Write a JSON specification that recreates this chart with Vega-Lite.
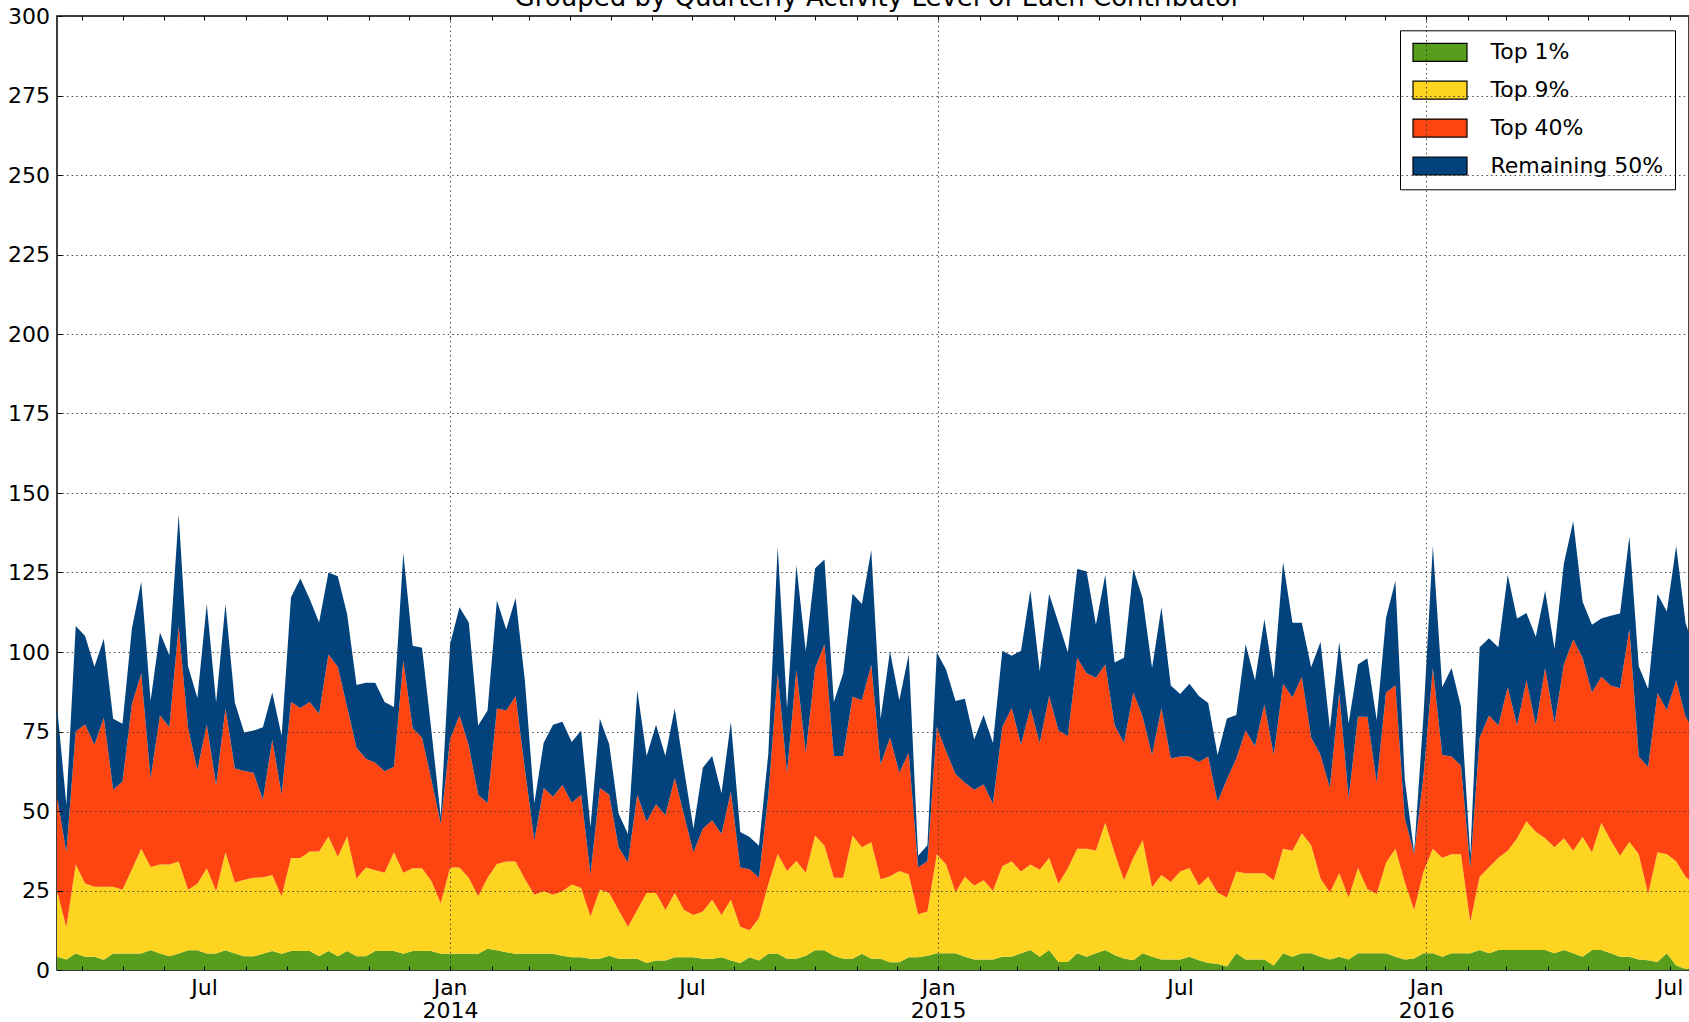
{
  "$schema": "https://vega.github.io/schema/vega-lite/v6.json",
  "autosize": {"type": "none"},
  "padding": {"left": 57, "top": 16, "right": 0, "bottom": 52},
  "width": 1632,
  "height": 954,
  "background": "white",
  "title": {"text": "Grouped by Quarterly Activity Level of Each Contributor", "font": "DejaVu Sans", "fontSize": 26, "fontWeight": "normal", "color": "black", "anchor": "middle", "offset": 0, "baseline": "alphabetic", "dx": 5, "dy": 27},
  "config": {"view": {"stroke": "black", "strokeWidth": 1.5}},
  "data": {"values": [
    {"date":"2013-03-13","t1":4.2,"t9":20.7,"t40":29.6,"rest":28.5},
    {"date":"2013-03-20","t1":3.3,"t9":10.2,"t40":23.5,"rest":15.0},
    {"date":"2013-03-27","t1":5.2,"t9":28.0,"t40":41.8,"rest":33.2},
    {"date":"2013-04-03","t1":4.2,"t9":23.0,"t40":50.0,"rest":27.8},
    {"date":"2013-04-10","t1":4.2,"t9":22.0,"t40":44.6,"rest":24.6},
    {"date":"2013-04-17","t1":3.2,"t9":23.0,"t40":53.1,"rest":24.9},
    {"date":"2013-04-24","t1":5.2,"t9":21.0,"t40":30.5,"rest":22.3},
    {"date":"2013-05-01","t1":5.2,"t9":20.0,"t40":34.1,"rest":18.1},
    {"date":"2013-05-08","t1":5.2,"t9":26.4,"t40":52.0,"rest":23.7},
    {"date":"2013-05-15","t1":5.2,"t9":32.9,"t40":55.1,"rest":28.9},
    {"date":"2013-05-22","t1":6.3,"t9":26.1,"t40":27.8,"rest":24.5},
    {"date":"2013-05-29","t1":5.2,"t9":28.0,"t40":46.9,"rest":26.0},
    {"date":"2013-06-05","t1":4.3,"t9":28.9,"t40":43.1,"rest":22.7},
    {"date":"2013-06-12","t1":5.2,"t9":28.9,"t40":74.0,"rest":35.1},
    {"date":"2013-06-19","t1":6.2,"t9":19.0,"t40":50.9,"rest":19.4},
    {"date":"2013-06-26","t1":6.2,"t9":20.9,"t40":35.8,"rest":22.6},
    {"date":"2013-07-03","t1":5.2,"t9":26.8,"t40":45.2,"rest":37.9},
    {"date":"2013-07-10","t1":5.2,"t9":19.6,"t40":33.4,"rest":25.9},
    {"date":"2013-07-17","t1":6.2,"t9":30.8,"t40":45.3,"rest":32.8},
    {"date":"2013-07-24","t1":5.2,"t9":22.3,"t40":35.9,"rest":20.7},
    {"date":"2013-07-31","t1":4.3,"t9":24.1,"t40":34.2,"rest":12.1},
    {"date":"2013-08-07","t1":4.3,"t9":24.7,"t40":33.0,"rest":13.3},
    {"date":"2013-08-14","t1":5.1,"t9":24.1,"t40":24.3,"rest":22.8},
    {"date":"2013-08-21","t1":6.0,"t9":23.9,"t40":42.5,"rest":14.9},
    {"date":"2013-08-28","t1":5.1,"t9":18.1,"t40":31.9,"rest":18.6},
    {"date":"2013-09-04","t1":6.0,"t9":29.2,"t40":49.1,"rest":32.9},
    {"date":"2013-09-11","t1":6.0,"t9":29.2,"t40":47.2,"rest":40.7},
    {"date":"2013-09-18","t1":6.0,"t9":31.3,"t40":47.0,"rest":32.4},
    {"date":"2013-09-25","t1":4.3,"t9":33.0,"t40":43.3,"rest":28.7},
    {"date":"2013-10-02","t1":6.0,"t9":36.0,"t40":57.2,"rest":25.8},
    {"date":"2013-10-09","t1":4.3,"t9":31.3,"t40":59.8,"rest":28.4},
    {"date":"2013-10-16","t1":6.0,"t9":36.0,"t40":40.7,"rest":29.2},
    {"date":"2013-10-23","t1":4.3,"t9":24.5,"t40":41.1,"rest":19.7},
    {"date":"2013-10-30","t1":4.3,"t9":27.9,"t40":34.2,"rest":23.9},
    {"date":"2013-11-06","t1":6.0,"t9":25.4,"t40":33.8,"rest":25.1},
    {"date":"2013-11-13","t1":6.0,"t9":24.6,"t40":31.9,"rest":21.8},
    {"date":"2013-11-20","t1":6.0,"t9":31.0,"t40":26.9,"rest":18.8},
    {"date":"2013-11-27","t1":5.1,"t9":25.5,"t40":66.7,"rest":33.8},
    {"date":"2013-12-04","t1":6.0,"t9":26.0,"t40":44.0,"rest":26.0},
    {"date":"2013-12-11","t1":6.0,"t9":26.0,"t40":41.1,"rest":28.2},
    {"date":"2013-12-18","t1":6.0,"t9":22.0,"t40":31.8,"rest":15.5},
    {"date":"2013-12-25","t1":5.1,"t9":15.9,"t40":25.0,"rest":2.2},
    {"date":"2014-01-01","t1":5.1,"t9":27.1,"t40":40.4,"rest":29.8},
    {"date":"2014-01-08","t1":5.1,"t9":27.1,"t40":47.8,"rest":34.1},
    {"date":"2014-01-15","t1":5.1,"t9":23.9,"t40":41.5,"rest":38.8},
    {"date":"2014-01-22","t1":5.1,"t9":18.1,"t40":31.9,"rest":21.8},
    {"date":"2014-01-29","t1":6.7,"t9":22.3,"t40":23.4,"rest":29.2},
    {"date":"2014-02-05","t1":6.2,"t9":27.1,"t40":48.9,"rest":34.0},
    {"date":"2014-02-12","t1":5.6,"t9":28.5,"t40":47.5,"rest":25.5},
    {"date":"2014-02-19","t1":5.1,"t9":29.0,"t40":52.0,"rest":30.9},
    {"date":"2014-02-26","t1":5.1,"t9":23.4,"t40":34.5,"rest":27.7},
    {"date":"2014-03-05","t1":5.1,"t9":18.6,"t40":17.0,"rest":11.7},
    {"date":"2014-03-12","t1":5.1,"t9":19.7,"t40":32.4,"rest":14.3},
    {"date":"2014-03-19","t1":5.1,"t9":18.6,"t40":30.8,"rest":22.6},
    {"date":"2014-03-26","t1":4.5,"t9":20.3,"t40":33.4,"rest":19.9},
    {"date":"2014-04-02","t1":4.0,"t9":22.9,"t40":25.7,"rest":19.1},
    {"date":"2014-04-09","t1":4.0,"t9":21.8,"t40":29.3,"rest":20.2},
    {"date":"2014-04-16","t1":3.5,"t9":13.3,"t40":13.3,"rest":14.9},
    {"date":"2014-04-23","t1":3.5,"t9":21.8,"t40":31.9,"rest":21.8},
    {"date":"2014-04-30","t1":4.5,"t9":19.7,"t40":30.9,"rest":15.9},
    {"date":"2014-05-07","t1":3.5,"t9":15.4,"t40":19.7,"rest":10.6},
    {"date":"2014-05-14","t1":3.5,"t9":10.1,"t40":20.2,"rest":9.0},
    {"date":"2014-05-21","t1":3.5,"t9":15.4,"t40":36.2,"rest":32.9},
    {"date":"2014-05-28","t1":2.2,"t9":22.0,"t40":22.4,"rest":20.7},
    {"date":"2014-06-04","t1":3.0,"t9":21.2,"t40":27.9,"rest":25.0},
    {"date":"2014-06-11","t1":3.0,"t9":15.9,"t40":29.8,"rest":18.6},
    {"date":"2014-06-18","t1":4.0,"t9":20.2,"t40":36.2,"rest":21.8},
    {"date":"2014-06-25","t1":4.0,"t9":14.9,"t40":29.8,"rest":14.3},
    {"date":"2014-07-02","t1":4.0,"t9":13.3,"t40":19.7,"rest":7.4},
    {"date":"2014-07-09","t1":3.5,"t9":14.9,"t40":26.0,"rest":19.2},
    {"date":"2014-07-16","t1":3.5,"t9":18.6,"t40":25.0,"rest":20.2},
    {"date":"2014-07-23","t1":4.0,"t9":13.3,"t40":25.5,"rest":12.8},
    {"date":"2014-07-30","t1":3.0,"t9":19.1,"t40":34.0,"rest":22.0},
    {"date":"2014-08-06","t1":2.2,"t9":11.4,"t40":18.6,"rest":11.2},
    {"date":"2014-08-13","t1":4.0,"t9":8.5,"t40":19.2,"rest":10.1},
    {"date":"2014-08-20","t1":3.0,"t9":13.3,"t40":12.7,"rest":10.1},
    {"date":"2014-08-27","t1":5.1,"t9":21.9,"t40":28.0,"rest":13.0},
    {"date":"2014-09-03","t1":5.1,"t9":31.4,"t40":56.8,"rest":39.9},
    {"date":"2014-09-10","t1":3.5,"t9":27.6,"t40":30.9,"rest":20.2},
    {"date":"2014-09-17","t1":3.5,"t9":30.8,"t40":60.1,"rest":32.9},
    {"date":"2014-09-24","t1":4.5,"t9":26.1,"t40":37.7,"rest":31.9},
    {"date":"2014-10-01","t1":6.2,"t9":36.1,"t40":52.6,"rest":31.4},
    {"date":"2014-10-08","t1":6.2,"t9":32.9,"t40":63.3,"rest":26.7},
    {"date":"2014-10-15","t1":4.5,"t9":24.5,"t40":38.3,"rest":17.0},
    {"date":"2014-10-22","t1":3.5,"t9":25.5,"t40":38.3,"rest":26.0},
    {"date":"2014-10-29","t1":3.5,"t9":38.8,"t40":43.6,"rest":32.4},
    {"date":"2014-11-05","t1":5.1,"t9":33.5,"t40":46.2,"rest":30.3},
    {"date":"2014-11-12","t1":3.5,"t9":36.7,"t40":55.8,"rest":36.1},
    {"date":"2014-11-19","t1":3.5,"t9":25.0,"t40":36.1,"rest":14.4},
    {"date":"2014-11-26","t1":2.4,"t9":27.1,"t40":43.6,"rest":27.1},
    {"date":"2014-12-03","t1":2.4,"t9":28.7,"t40":30.9,"rest":22.8},
    {"date":"2014-12-10","t1":4.0,"t9":26.1,"t40":38.2,"rest":30.9},
    {"date":"2014-12-17","t1":4.0,"t9":13.5,"t40":14.7,"rest":3.7},
    {"date":"2014-12-24","t1":4.5,"t9":13.9,"t40":15.8,"rest":5.0},
    {"date":"2014-12-31","t1":5.3,"t9":31.1,"t40":40.0,"rest":23.5},
    {"date":"2015-01-07","t1":5.3,"t9":27.9,"t40":35.5,"rest":25.7},
    {"date":"2015-01-14","t1":5.3,"t9":19.1,"t40":37.2,"rest":23.0},
    {"date":"2015-01-21","t1":4.2,"t9":25.1,"t40":29.6,"rest":26.4},
    {"date":"2015-01-28","t1":3.3,"t9":23.3,"t40":30.1,"rest":15.8},
    {"date":"2015-02-04","t1":3.3,"t9":24.9,"t40":30.1,"rest":21.9},
    {"date":"2015-02-11","t1":3.3,"t9":21.6,"t40":27.4,"rest":19.1},
    {"date":"2015-02-18","t1":4.2,"t9":28.4,"t40":43.8,"rest":24.0},
    {"date":"2015-02-25","t1":4.2,"t9":30.0,"t40":48.2,"rest":16.4},
    {"date":"2015-03-04","t1":5.3,"t9":25.7,"t40":39.9,"rest":29.5},
    {"date":"2015-03-11","t1":6.3,"t9":26.9,"t40":49.2,"rest":37.0},
    {"date":"2015-03-18","t1":4.2,"t9":27.3,"t40":39.9,"rest":22.5},
    {"date":"2015-03-25","t1":6.3,"t9":29.0,"t40":50.9,"rest":32.0},
    {"date":"2015-04-01","t1":2.5,"t9":24.6,"t40":48.2,"rest":33.9},
    {"date":"2015-04-08","t1":2.5,"t9":29.5,"t40":41.6,"rest":26.3},
    {"date":"2015-04-15","t1":5.3,"t9":32.8,"t40":60.1,"rest":27.9},
    {"date":"2015-04-22","t1":4.2,"t9":33.9,"t40":55.2,"rest":32.1},
    {"date":"2015-04-29","t1":5.3,"t9":32.3,"t40":54.3,"rest":16.7},
    {"date":"2015-05-06","t1":6.3,"t9":40.0,"t40":49.8,"rest":28.2},
    {"date":"2015-05-13","t1":4.7,"t9":32.1,"t40":40.2,"rest":19.7},
    {"date":"2015-05-20","t1":3.6,"t9":24.6,"t40":43.2,"rest":26.8},
    {"date":"2015-05-27","t1":3.1,"t9":32.2,"t40":52.0,"rest":38.8},
    {"date":"2015-06-03","t1":5.3,"t9":35.5,"t40":38.8,"rest":37.2},
    {"date":"2015-06-10","t1":4.2,"t9":21.8,"t40":41.6,"rest":27.4},
    {"date":"2015-06-17","t1":3.3,"t9":26.6,"t40":52.5,"rest":31.7},
    {"date":"2015-06-24","t1":3.3,"t9":24.4,"t40":38.8,"rest":23.0},
    {"date":"2015-07-01","t1":3.3,"t9":27.7,"t40":36.1,"rest":19.7},
    {"date":"2015-07-08","t1":4.2,"t9":27.9,"t40":35.0,"rest":22.9},
    {"date":"2015-07-15","t1":3.1,"t9":23.5,"t40":38.8,"rest":20.8},
    {"date":"2015-07-22","t1":2.2,"t9":27.1,"t40":37.8,"rest":16.9},
    {"date":"2015-07-29","t1":2.0,"t9":22.4,"t40":28.4,"rest":14.8},
    {"date":"2015-08-05","t1":1.1,"t9":21.7,"t40":37.2,"rest":19.1},
    {"date":"2015-08-12","t1":5.3,"t9":25.7,"t40":35.5,"rest":13.7},
    {"date":"2015-08-19","t1":3.3,"t9":27.1,"t40":44.9,"rest":27.1},
    {"date":"2015-08-26","t1":3.3,"t9":27.1,"t40":40.0,"rest":20.7},
    {"date":"2015-09-02","t1":3.3,"t9":27.1,"t40":53.1,"rest":26.8},
    {"date":"2015-09-09","t1":1.4,"t9":26.8,"t40":39.4,"rest":24.1},
    {"date":"2015-09-16","t1":5.3,"t9":32.8,"t40":51.9,"rest":38.3},
    {"date":"2015-09-23","t1":4.2,"t9":33.3,"t40":48.2,"rest":23.5},
    {"date":"2015-09-30","t1":5.3,"t9":37.7,"t40":49.2,"rest":17.0},
    {"date":"2015-10-07","t1":5.3,"t9":33.9,"t40":33.9,"rest":22.1},
    {"date":"2015-10-14","t1":4.2,"t9":24.6,"t40":38.8,"rest":35.6},
    {"date":"2015-10-21","t1":3.3,"t9":21.1,"t40":32.8,"rest":18.7},
    {"date":"2015-10-28","t1":4.2,"t9":26.2,"t40":56.9,"rest":15.9},
    {"date":"2015-11-04","t1":3.3,"t9":19.5,"t40":31.1,"rest":23.6},
    {"date":"2015-11-11","t1":5.3,"t9":26.8,"t40":47.5,"rest":16.5},
    {"date":"2015-11-18","t1":5.3,"t9":20.2,"t40":54.1,"rest":18.4},
    {"date":"2015-11-25","t1":5.3,"t9":18.6,"t40":35.0,"rest":19.7},
    {"date":"2015-12-02","t1":5.3,"t9":28.4,"t40":53.6,"rest":23.5},
    {"date":"2015-12-09","t1":4.2,"t9":33.9,"t40":51.4,"rest":32.8},
    {"date":"2015-12-16","t1":3.3,"t9":24.4,"t40":20.2,"rest":12.1},
    {"date":"2015-12-23","t1":3.6,"t9":15.3,"t40":17.5,"rest":0.6},
    {"date":"2015-12-30","t1":5.3,"t9":25.7,"t40":30.0,"rest":19.0},
    {"date":"2016-01-06","t1":5.3,"t9":32.8,"t40":56.9,"rest":38.3},
    {"date":"2016-01-13","t1":4.2,"t9":31.1,"t40":32.3,"rest":21.3},
    {"date":"2016-01-20","t1":5.3,"t9":31.1,"t40":30.7,"rest":27.9},
    {"date":"2016-01-27","t1":5.3,"t9":31.1,"t40":27.9,"rest":18.6},
    {"date":"2016-02-03","t1":5.3,"t9":9.8,"t40":17.0,"rest":3.8},
    {"date":"2016-02-10","t1":6.3,"t9":23.0,"t40":43.8,"rest":28.4},
    {"date":"2016-02-17","t1":5.3,"t9":27.0,"t40":47.7,"rest":24.3},
    {"date":"2016-02-24","t1":6.3,"t9":29.0,"t40":41.6,"rest":24.6},
    {"date":"2016-03-02","t1":6.3,"t9":31.2,"t40":51.4,"rest":35.4},
    {"date":"2016-03-09","t1":6.3,"t9":35.1,"t40":35.5,"rest":33.6},
    {"date":"2016-03-16","t1":6.3,"t9":40.5,"t40":44.3,"rest":21.2},
    {"date":"2016-03-23","t1":6.3,"t9":37.2,"t40":33.4,"rest":27.9},
    {"date":"2016-03-30","t1":6.3,"t9":35.1,"t40":53.6,"rest":24.3},
    {"date":"2016-04-06","t1":5.3,"t9":33.3,"t40":38.9,"rest":23.5},
    {"date":"2016-04-13","t1":6.3,"t9":35.1,"t40":54.7,"rest":31.7},
    {"date":"2016-04-20","t1":5.3,"t9":32.2,"t40":66.4,"rest":37.2},
    {"date":"2016-04-27","t1":4.2,"t9":37.7,"t40":56.3,"rest":17.6},
    {"date":"2016-05-04","t1":6.3,"t9":30.7,"t40":50.3,"rest":21.3},
    {"date":"2016-05-11","t1":6.3,"t9":40.0,"t40":45.9,"rest":18.3},
    {"date":"2016-05-18","t1":5.3,"t9":35.5,"t40":48.7,"rest":21.9},
    {"date":"2016-05-25","t1":4.2,"t9":31.7,"t40":52.7,"rest":23.5},
    {"date":"2016-06-01","t1":4.2,"t9":36.1,"t40":66.9,"rest":29.1},
    {"date":"2016-06-08","t1":3.3,"t9":33.1,"t40":30.7,"rest":28.4},
    {"date":"2016-06-15","t1":3.1,"t9":20.8,"t40":39.9,"rest":24.6},
    {"date":"2016-06-22","t1":2.5,"t9":34.5,"t40":50.1,"rest":31.1},
    {"date":"2016-06-29","t1":5.3,"t9":31.1,"t40":45.4,"rest":30.9},
    {"date":"2016-07-06","t1":1.4,"t9":32.8,"t40":56.9,"rest":42.2},
    {"date":"2016-07-13","t1":0.3,"t9":29.0,"t40":50.3,"rest":29.6},
    {"date":"2016-07-20","t1":0.5,"t9":26.5,"t40":48.0,"rest":25.0}
  ]},
  "layer": [
    {
      "transform": [
        {"fold": ["t1", "t9", "t40", "rest"], "as": ["key", "count"]},
        {"lookup": "key", "from": {"data": {"values": [
          {"key": "t1", "group": "Top 1%", "rank": 1},
          {"key": "t9", "group": "Top 9%", "rank": 2},
          {"key": "t40", "group": "Top 40%", "rank": 3},
          {"key": "rest", "group": "Remaining 50%", "rank": 4}
        ]}, "key": "key", "fields": ["group", "rank"]}}
      ],
      "mark": {"type": "area", "clip": true, "interpolate": "linear", "opacity": 1},
      "encoding": {
        "x": {
          "field": "date", "type": "temporal",
          "scale": {"type": "utc", "domain": [{"year": 2013, "month": 3, "date": 13, "utc": true}, {"year": 2016, "month": 7, "date": 15, "hours": 14, "utc": true}]},
          "axis": {
            "title": null, "orient": "bottom", "zindex": 1,
            "tickCount": {"interval": "month", "step": 1},
            "labelExpr": "utcmonth(datum.value) === 0 ? [utcFormat(datum.value, '%b'), utcFormat(datum.value, '%Y')] : (utcmonth(datum.value) === 6 ? 'Jul' : '')",
            "labelFont": "DejaVu Sans", "labelFontSize": 22, "labelColor": "black",
            "labelBaseline": "top", "labelLineHeight": 23.5, "labelPadding": 11.3,
            "labelFlush": false, "labelOverlap": false,
            "domain": false,
            "ticks": true, "tickSize": -4, "tickColor": "black", "tickWidth": 1,
            "grid": true, "gridColor": "#333", "gridWidth": 0.9, "gridDash": [1.5, 3.2],
            "gridOpacity": {"condition": {"test": "utcmonth(datum.value) === 0", "value": 1}, "value": 0}
          }
        },
        "y": {
          "field": "count", "type": "quantitative", "stack": "zero",
          "scale": {"domain": [0, 300], "nice": false},
          "axis": {
            "title": null, "zindex": 1,
            "values": [0, 25, 50, 75, 100, 125, 150, 175, 200, 225, 250, 275, 300],
            "labelFont": "DejaVu Sans", "labelFontSize": 22, "labelColor": "black",
            "labelPadding": 12.6, "labelFlush": false, "labelOverlap": false,
            "domain": false,
            "tickSize": -5, "tickColor": "black", "tickWidth": 1,
            "grid": true, "gridColor": "#333", "gridWidth": 0.9, "gridDash": [1.5, 3.2]
          }
        },
        "color": {
          "field": "group", "type": "nominal",
          "scale": {"domain": ["Top 1%", "Top 9%", "Top 40%", "Remaining 50%"], "range": ["#589d1c", "#fdd420", "#fe4411", "#02437e"]},
          "legend": {
            "orient": "none", "legendX": 1343, "legendY": 14.3, "title": null,
            "padding": 11, "rowPadding": 13.9,
            "fillColor": "white", "strokeColor": "black", "cornerRadius": 0,
            "labelFont": "DejaVu Sans", "labelFontSize": 22, "labelColor": "black", "labelLimit": 400,
            "symbolType": "M-1,-1H5V1H-1Z", "symbolSize": 324,
            "symbolStrokeColor": "black", "symbolStrokeWidth": 1.2, "symbolOpacity": 1,
            "labelOffset": 57.5
          }
        },
        "order": {"field": "rank", "type": "quantitative"}
      }
    },
    {
      "mark": {"type": "rule", "opacity": 0},
      "encoding": {
        "x": {
          "field": "date", "type": "temporal",
          "axis": {
            "title": null, "orient": "top", "zindex": 1, "labels": false,
            "tickCount": {"interval": "month", "step": 1},
            "domain": false, "grid": false,
            "tickSize": -4, "tickColor": "black", "tickWidth": 1
          }
        }
      }
    }
  ],
  "resolve": {"axis": {"x": "independent"}}
}
